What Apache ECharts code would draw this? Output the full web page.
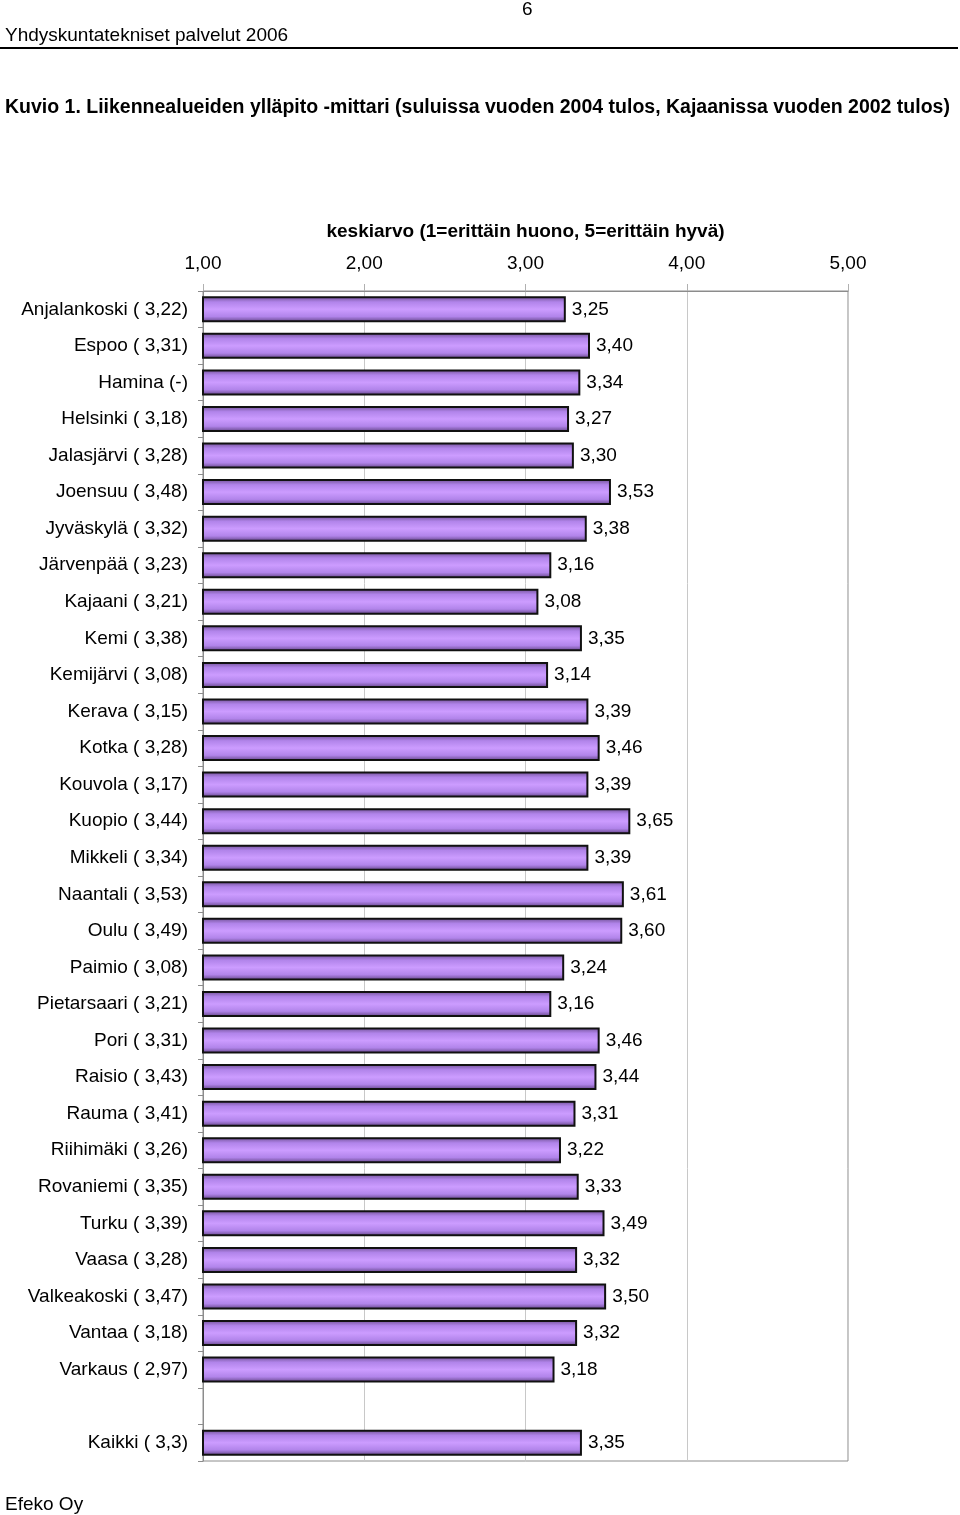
<!DOCTYPE html>
<html>
<head>
<meta charset="utf-8">
<script src="https://cdn.jsdelivr.net/npm/echarts@6/dist/echarts.min.js"></script>
<style>
  html, body { margin: 0; padding: 0; background: #fff; }
  #chart { width: 960px; height: 1515px; }
</style>
</head>
<body>
<div id="chart"></div>
<script>
// municipalities, previous result (2004, Kajaani 2002) and 2006 score
const cities = ['Anjalankoski', 'Espoo', 'Hamina', 'Helsinki', 'Jalasjärvi', 'Joensuu', 'Jyväskylä',
  'Järvenpää', 'Kajaani', 'Kemi', 'Kemijärvi', 'Kerava', 'Kotka', 'Kouvola', 'Kuopio', 'Mikkeli',
  'Naantali', 'Oulu', 'Paimio', 'Pietarsaari', 'Pori', 'Raisio', 'Rauma', 'Riihimäki', 'Rovaniemi',
  'Turku', 'Vaasa', 'Valkeakoski', 'Vantaa', 'Varkaus', '', 'Kaikki'];
const previous = ['3,22', '3,31', '-', '3,18', '3,28', '3,48', '3,32', '3,23', '3,21', '3,38', '3,08',
  '3,15', '3,28', '3,17', '3,44', '3,34', '3,53', '3,49', '3,08', '3,21', '3,31', '3,43', '3,41', '3,26',
  '3,35', '3,39', '3,28', '3,47', '3,18', '2,97', '', '3,3'];
const scores = [3.25, 3.40, 3.34, 3.27, 3.30, 3.53, 3.38, 3.16, 3.08, 3.35, 3.14, 3.39, 3.46, 3.39, 3.65,
  3.39, 3.61, 3.60, 3.24, 3.16, 3.46, 3.44, 3.31, 3.22, 3.33, 3.49, 3.32, 3.50, 3.32, 3.18, null, 3.35];
const xTicks = [1, 2, 3, 4, 5];

const font = "'Liberation Sans', Arial, sans-serif";
const fs = 19;
const categories = cities.map((c, i) => {
  if (!c) return '';
  return previous[i] === '-' ? c + ' (-)' : c + ' ( ' + previous[i] + ')';
});
const fmt = v => v.toFixed(2).replace('.', ',');

const chart = echarts.init(document.getElementById('chart'));

chart.setOption({
  backgroundColor: '#fff',
  animation: false,
  grid: {
    left: 203,
    right: 112,
    top: 291,
    bottom: 54,
    show: true,
    borderColor: '#8c8c8c',
    borderWidth: 1
  },
  xAxis: {
    type: 'value',
    position: 'top',
    min: xTicks[0],
    max: xTicks[xTicks.length - 1],
    interval: 1,
    name: 'keskiarvo (1=erittäin huono, 5=erittäin hyvä)',
    nameLocation: 'middle',
    nameGap: 50,
    nameTextStyle: {
      fontFamily: font,
      fontSize: fs,
      fontWeight: 'bold',
      color: '#000'
    },
    axisLine: { show: true, lineStyle: { color: '#8c8c8c' } },
    axisTick: { show: true, length: 7, lineStyle: { color: '#b0b0b0' } },
    axisLabel: {
      margin: 18,
      fontFamily: font,
      fontSize: fs,
      color: '#000',
      formatter: v => fmt(v)
    },
    splitLine: { show: true, lineStyle: { color: '#c8c8c8', width: 1 } }
  },
  yAxis: {
    type: 'category',
    inverse: true,
    data: categories,
    axisLine: { show: true, lineStyle: { color: '#8c8c8c' } },
    axisTick: { show: true, length: 5, lineStyle: { color: '#8c8c8c' } },
    axisLabel: {
      margin: 15,
      fontFamily: font,
      fontSize: fs,
      color: '#000'
    },
    splitLine: { show: false }
  },
  series: [{
    type: 'bar',
    data: scores.map(v => (v == null ? '-' : v)),
    barWidth: 26,
    itemStyle: {
      color: new echarts.graphic.LinearGradient(0, 0, 0, 1, [
        { offset: 0, color: '#6e4f92' },
        { offset: 0.22, color: '#b184ea' },
        { offset: 0.5, color: '#cc9cff' },
        { offset: 0.78, color: '#b184ea' },
        { offset: 1, color: '#5e4080' }
      ]),
      borderColor: '#111',
      borderWidth: 2
    },
    label: {
      show: true,
      position: 'right',
      distance: 6,
      fontFamily: font,
      fontSize: fs,
      color: '#000',
      formatter: p => fmt(p.value)
    }
  }],
  graphic: [
    {
      type: 'text', left: 522, top: 0,
      style: { text: '6', fontFamily: font, fontSize: fs, fill: '#000' }
    },
    {
      type: 'text', left: 5, top: 26,
      style: { text: 'Yhdyskuntatekniset palvelut 2006', fontFamily: font, fontSize: fs, fill: '#000' }
    },
    {
      type: 'rect', shape: { x: 0, y: 47, width: 958, height: 2 },
      style: { fill: '#000' }
    },
    {
      type: 'text', left: 5, top: 98,
      style: {
        text: 'Kuvio 1. Liikennealueiden ylläpito -mittari (suluissa vuoden 2004 tulos, Kajaanissa vuoden 2002 tulos)',
        fontFamily: font, fontSize: 19.5, fontWeight: 'bold', fill: '#000'
      }
    },
    {
      type: 'text', left: 5, top: 1495,
      style: { text: 'Efeko Oy', fontFamily: font, fontSize: fs, fill: '#000' }
    }
  ]
});
</script>
</body>
</html>
